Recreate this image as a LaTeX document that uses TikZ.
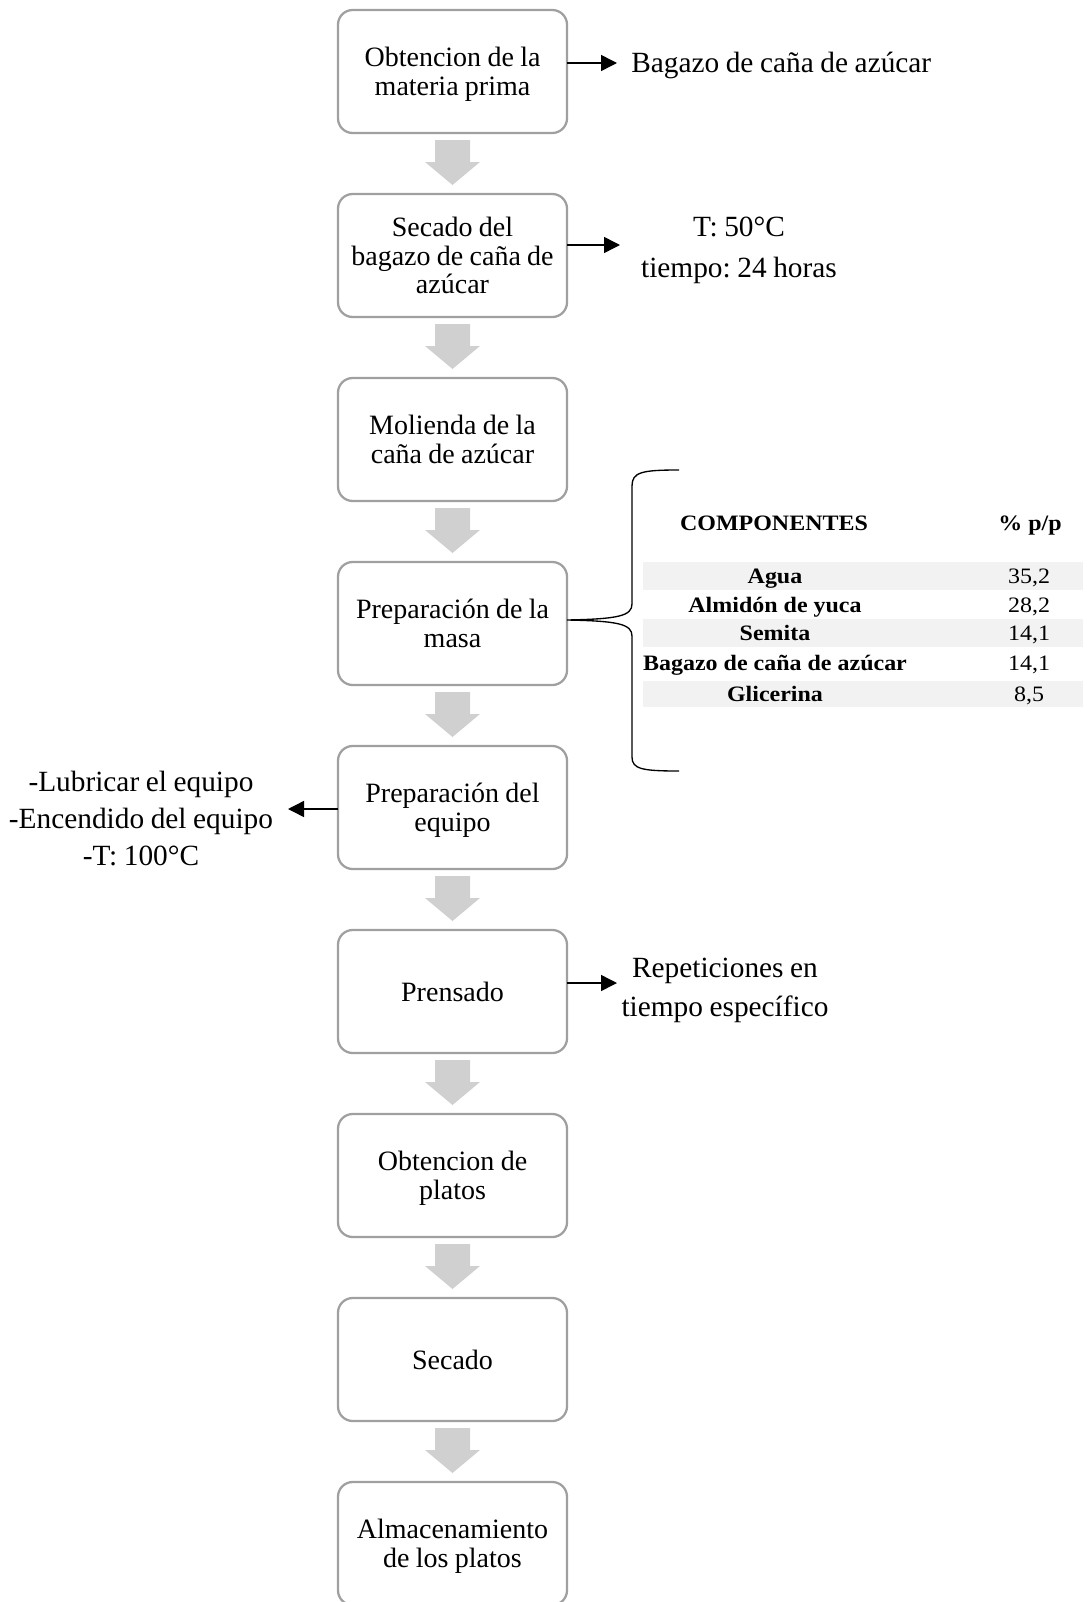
\documentclass[tikz,border=0pt]{standalone}
\usepackage{fontspec}
\setmainfont{Liberation Serif}[WordSpace=0.9]
\newfontfamily\tabfont[FakeStretch=1.09]{Liberation Serif}
\usetikzlibrary{arrows.meta,calc}
\definecolor{boxgray}{HTML}{A0A0A0}
\definecolor{arrgray}{HTML}{D0D0D0}
\definecolor{rowgray}{HTML}{F2F2F2}
\newcommand{\nodp}[1]{\raisebox{0pt}[\height][0pt]{#1}}
\frenchspacing
\begin{document}
\begin{tikzpicture}[x=0.75pt,y=-0.75pt,
  stepbox/.style={draw=boxgray, line width=1.7pt, rounded corners=11pt,
    minimum width=171.75pt, minimum height=92.25pt, align=flush center,
    font=\fontsize{21}{21.5}\selectfont, inner sep=0pt, outer sep=0pt, text width=165pt},
  sidetext/.style={align=center, inner sep=0pt},
  sidearrow/.style={-{Triangle[length=12pt,width=12pt]}, line width=1.1pt},
  tabhead/.style={font=\tabfont\bfseries\fontsize{16.5}{18}\selectfont, anchor=base, inner sep=0pt},
  tabnum/.style={font=\tabfont\fontsize{16.5}{18}\selectfont, anchor=base, inner sep=0pt},
  rowband/.style={fill=rowgray, draw=none},
  bracestyle/.style={line width=1pt}
]
\useasboundingbox (0,0) rectangle (1087,1602);

% process boxes
\node[stepbox] (b1) at (452.5,71.5)  {Obtencion de la\\\nodp{materia prima}};
\node[stepbox] (b2) at (452.5,255.5) {Secado del\\bagazo de caña de\\azúcar};
\node[stepbox] (b3) at (452.5,439.5) {Molienda de la\\caña de azúcar};
\node[stepbox] (b4) at (452.5,623.5) {Preparación de la\\masa};
\node[stepbox] (b5) at (452.5,807.5) {Preparación del\\\nodp{equipo}};
\node[stepbox] (b6) at (452.5,991.5) {Prensado};
\node[stepbox] (b7) at (452.5,1175.5) {Obtencion de\\\nodp{platos}};
\node[stepbox] (b8) at (452.5,1359.5) {Secado};
\node[stepbox] (b9) at (452.5,1543.5) {Almacenamiento\\\nodp{de los platos}};

% gray block arrows
\foreach \a in {b1,b2,b3,b4,b5,b6,b7,b8}{
  \fill[arrgray] ($(\a.south)+(-17.5,7)$) -- ++(35,0) -- ++(0,22) -- ++(10,0)
    -- ++(-27.5,23) -- ++(-27.5,-23) -- ++(10,0) -- cycle;
}

% side texts
\node[sidetext, anchor=west, font=\fontsize{22}{29}\selectfont] (t1) at (631,65) {Bagazo de caña de azúcar};
\node[sidetext, font=\fontsize{22}{30.75}\selectfont] (t2) at (739,250) {T: 50°C\\tiempo: 24 horas};
\node[sidetext, font=\fontsize{22}{27.75}\selectfont] (t3) at (141,819) {-Lubricar el equipo\\-Encendido del equipo\\-T: 100°C};
\node[sidetext, font=\fontsize{22}{29.25}\selectfont] (t4) at (725,990) {Repeticiones en\\tiempo específico};

\coordinate (a1) at (617,63);
\coordinate (a2) at (620,245);
\coordinate (a3) at (288,809);
\coordinate (a4) at (617,983);
\draw[sidearrow] (b1.east |- a1) -- (a1);
\draw[sidearrow] (b2.east |- a2) -- (a2);
\draw[sidearrow] (b5.west |- a3) -- (a3);
\draw[sidearrow] (b6.east |- a4) -- (a4);

% brace
\coordinate (bt) at ($(b4.east)+(0,-3.5)$);
\draw[bracestyle] (679,470) .. controls (642,470) and (632,472) .. (632,486)
  -- (632,604) .. controls (632,616) and (618,619) .. (bt)
  .. controls (618,621) and (632,624) .. (632,636)
  -- (632,757) .. controls (632,769) and (642,771) .. (679,771);

% table
\fill[rowband] (643,561.7) rectangle (1083,590);
\fill[rowband] (643,619) rectangle (1083,646.7);
\fill[rowband] (643,681) rectangle (1083,707.3);

\node[tabhead] (h1) at (774,530) {COMPONENTES};
\node[tabhead] (h2) at (1030,530) {\% p/p};

\node[tabhead] (r1) at (775,583)   {Agua};
\node[tabhead] (r2) at (775,612.7) {Almidón de yuca};
\node[tabhead] (r3) at (775,640.7) {Semita};
\node[tabhead] (r4) at (775,670)   {Bagazo de caña de azúcar};
\node[tabhead] (r5) at (775,701.7) {Glicerina};

\node[tabnum] (v1) at (1029,583)   {35,2};
\node[tabnum] (v2) at (1029,612.7) {28,2};
\node[tabnum] (v3) at (1029,640.7) {14,1};
\node[tabnum] (v4) at (1029,670)   {14,1};
\node[tabnum] (v5) at (1029,701.7) {8,5};
\end{tikzpicture}
\end{document}
